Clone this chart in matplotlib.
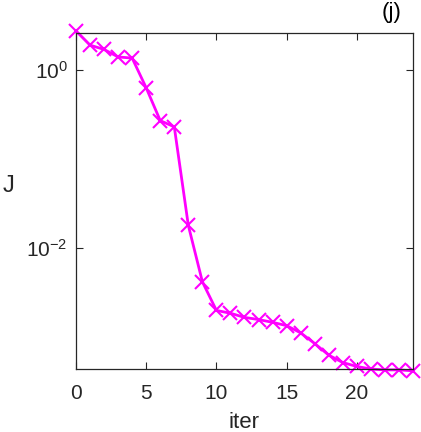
import numpy as np
import matplotlib.pyplot as plt
from matplotlib.ticker import NullLocator

plt.rcParams['font.family'] = ['Liberation Sans', 'DejaVu Sans']
plt.rcParams['axes.unicode_minus'] = False

iters = list(range(25))
J = [2.75, 1.9, 1.7, 1.4, 1.36, 0.63, 0.27, 0.23, 0.018, 0.0042,
     0.0020, 0.00186, 0.00167, 0.00158, 0.00147, 0.00135, 0.00112,
     0.00085, 0.00063, 0.00052, 0.00047, 0.00044, 0.00043, 0.00043, 0.00042]
xticks = [0, 5, 10, 15, 20]
yticks = [1e-2, 1e0]

fig = plt.figure(figsize=(4.21, 4.32), dpi=100)
ax = fig.add_axes([0.1805, 0.1458, 0.8005, 0.7778])
ax.plot(iters, J, color='#ff00ff', lw=2, marker='x', ms=10, mew=1.5, clip_on=False)
ax.set_yscale('log')
ax.set_xlim(0, 24)
ax.set_ylim(4.4e-4, 2.6)
ax.set_xticks(xticks)
ax.set_yticks(yticks)
ax.yaxis.set_minor_locator(NullLocator())
ax.tick_params(direction='in', length=5, width=0.8, labelsize=15, top=True, right=True, colors='#262626')
ax.tick_params(axis='x', pad=11)
ax.tick_params(axis='y', pad=6)
for s in ax.spines.values():
    s.set_linewidth(0.9)
    s.set_color('#262626')
ax.set_xlabel('iter', fontsize=16, color='#262626', va='top')
ax.xaxis.set_label_coords(0.5, -0.128)
ax.set_ylabel('J', fontsize=17, rotation=0, color='#262626', ha='center', va='center')
ax.yaxis.set_label_coords(-0.20, 0.545)
ax.text(0.967, 1.03, '(j)', transform=ax.transAxes, ha='right', va='bottom', fontsize=16)
fig.savefig('out.png', dpi=100)
